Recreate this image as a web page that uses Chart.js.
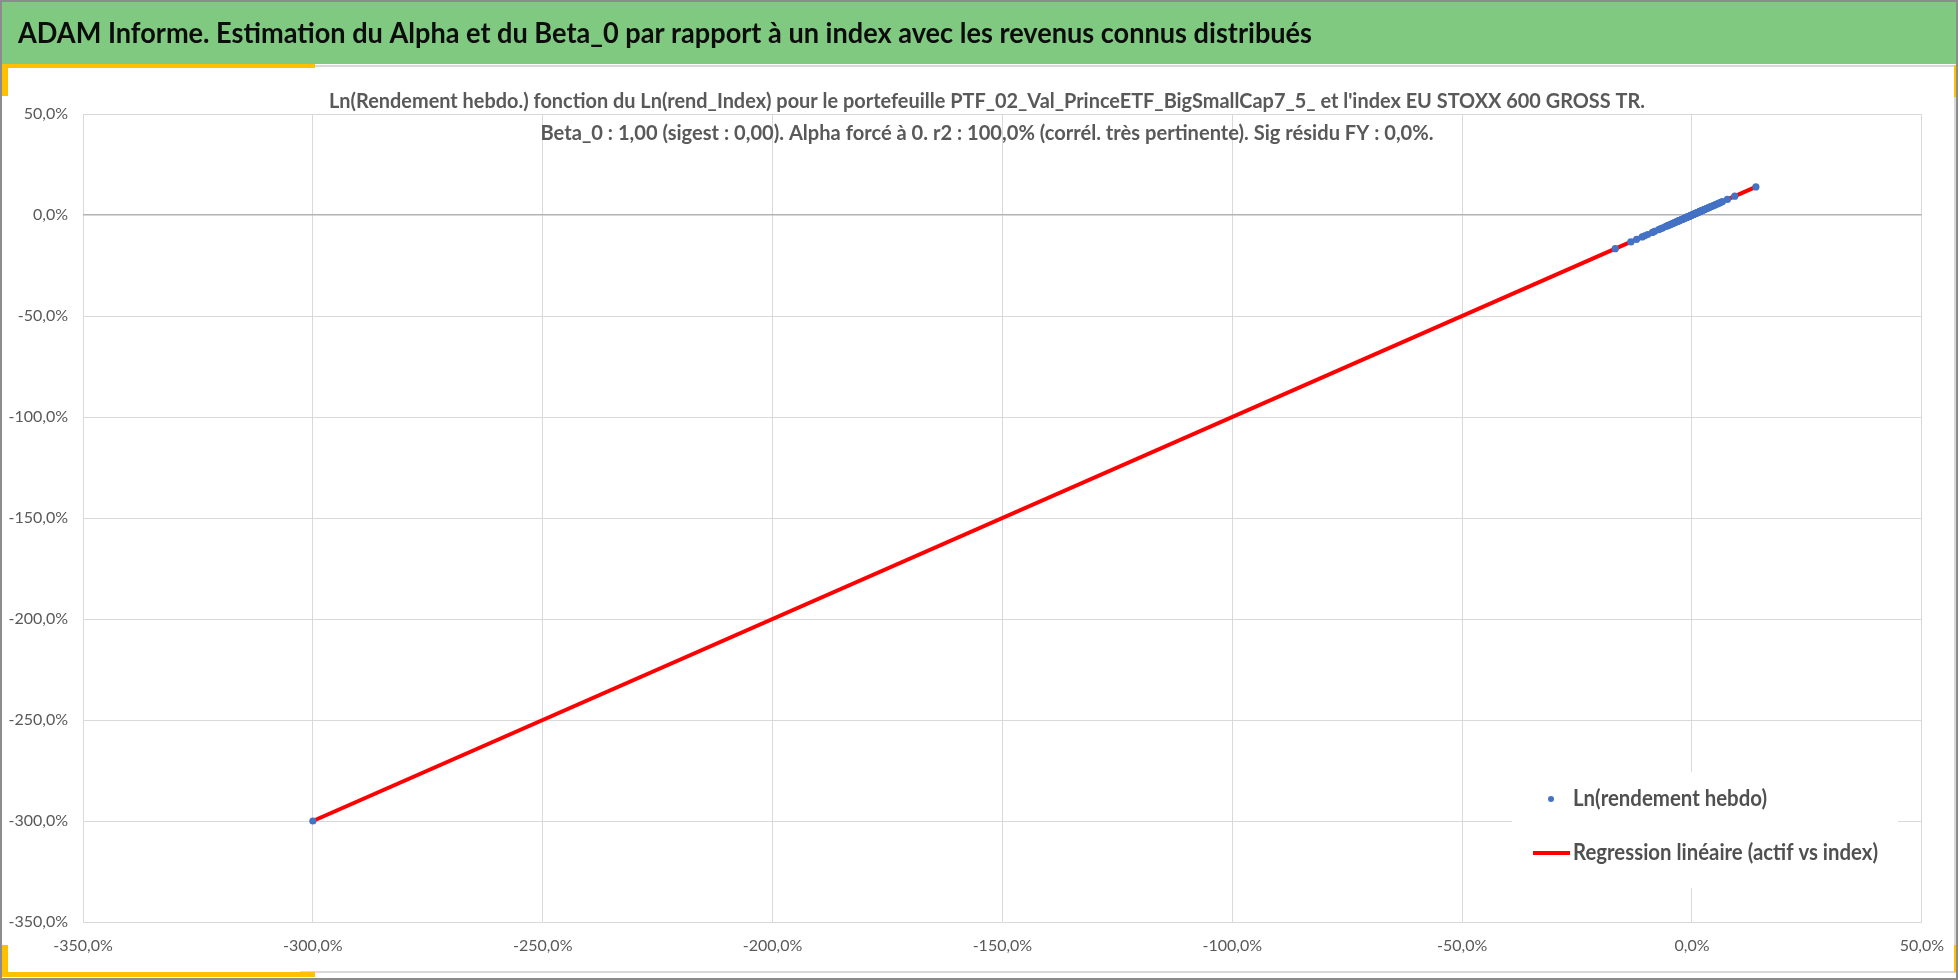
<!DOCTYPE html>
<html><head><meta charset="utf-8">
<script src="https://cdn.jsdelivr.net/npm/chart.js@4.4.1/dist/chart.umd.min.js"></script>
<style>html,body{margin:0;padding:0;background:#fff;overflow:hidden}canvas{display:block}</style>
</head><body>
<canvas id="c" width="1958" height="980" style="width:1958px;height:980px"></canvas>
<script>
// ---------- texts ----------
const pageTitle = "ADAM Informe. Estimation du Alpha et du Beta_0 par rapport à un index avec les revenus connus distribués";
const chartTitle = [
  "Ln(Rendement hebdo.) fonction du Ln(rend_Index) pour le portefeuille PTF_02_Val_PrinceETF_BigSmallCap7_5_ et l'index EU STOXX 600 GROSS TR.",
  "Beta_0 : 1,00 (sigest : 0,00). Alpha forcé à 0. r2 : 100,0% (corrél. très pertinente). Sig résidu FY : 0,0%."
];
const seriesNames = ["Ln(rendement hebdo)", "Regression linéaire (actif vs index)"];

// ---------- data (in %) ----------
const indexLnRet = [
  -300.00, -16.70, -13.30, -12.05, -10.85, -10.30, -9.65, -8.60, -8.15, -7.25, -6.80, -6.35,
  -5.75, -5.42, -5.18, -4.93, -4.71, -4.47, -4.26, -4.02, -3.88, -3.71, -3.52, -3.36, -3.21,
  -3.04, -2.93, -2.77, -2.64, -2.51, -2.38, -2.22, -2.13, -1.97, -1.86, -1.74, -1.61, -1.52,
  -1.43, -1.31, -1.19, -1.08, -0.97, -0.89, -0.78, -0.66, -0.57, -0.49, -0.38, -0.27, -0.16,
  -0.08, 0.04, 0.12, 0.23, 0.31, 0.42, 0.53, 0.61, 0.72, 0.84, 0.93, 1.02, 1.14, 1.23, 1.35,
  1.44, 1.56, 1.63, 1.77, 1.86, 1.95, 2.07, 2.18, 2.29, 2.41, 2.56, 2.68, 2.79, 2.94, 3.08,
  3.22, 3.41, 3.57, 3.73, 3.92, 4.12, 4.33, 4.56, 4.81, 5.04, 5.31, 5.62, 5.93, 6.22, 6.61,
  7.70, 9.30, 13.90
];
const ptfLnRet = [
  -300.00, -16.68, -13.32, -12.03, -10.86, -10.28, -9.66, -8.61, -8.13, -7.26, -6.79, -6.36,
  -5.74, -5.43, -5.17, -4.94, -4.70, -4.48, -4.25, -4.03, -3.87, -3.72, -3.51, -3.37, -3.20,
  -3.05, -2.92, -2.78, -2.63, -2.52, -2.37, -2.23, -2.12, -1.98, -1.85, -1.75, -1.60, -1.53,
  -1.42, -1.32, -1.18, -1.09, -0.96, -0.90, -0.77, -0.67, -0.56, -0.50, -0.37, -0.28, -0.15,
  -0.09, 0.05, 0.11, 0.24, 0.30, 0.43, 0.52, 0.62, 0.71, 0.85, 0.92, 1.03, 1.13, 1.24, 1.34,
  1.45, 1.55, 1.64, 1.76, 1.87, 1.94, 2.08, 2.17, 2.30, 2.40, 2.57, 2.67, 2.80, 2.93, 3.09,
  3.21, 3.42, 3.56, 3.74, 3.91, 4.13, 4.32, 4.57, 4.80, 5.05, 5.30, 5.63, 5.92, 6.23, 6.60,
  7.71, 9.31, 13.92
];
const regX = [-300.0, 13.9];
const regY = [-300.0, 13.9];
const xTicks = [-350, -300, -250, -200, -150, -100, -50, 0, 50];
const yTicks = [-350, -300, -250, -200, -150, -100, -50, 0, 50];

// ---------- font detection ----------
function hasFont(name) {
  const c = document.createElement('canvas').getContext('2d');
  const s = '-350,0% Regression linéaire';
  c.font = '40px monospace'; const a = c.measureText(s).width;
  c.font = '40px "' + name + '", monospace'; const b = c.measureText(s).width;
  return Math.abs(a - b) > 0.5;
}
const NARROW = hasFont('Liberation Sans Narrow');
const TXT = NARROW ? '"Liberation Sans Narrow", Lato, sans-serif' : 'Lato, "Open Sans", sans-serif';
const tickFont = NARROW ? { family: TXT, size: 18 } : { family: TXT, size: 16 };

function fmtPct(v) { return v.toFixed(1).replace('.', ',') + '%'; }

function fitText(ctx, text, x, y, w, align) {
  ctx.save();
  ctx.textAlign = 'left';
  const m = ctx.measureText(text).width;
  const s = w / m;
  ctx.translate(x, y);
  ctx.scale(s, 1);
  let x0 = 0;
  if (align === 'center') x0 = -m / 2;
  ctx.fillText(text, x0, 0);
  ctx.restore();
}

// ---------- frame / decorations ----------
const framePlugin = {
  id: 'frame',
  beforeDraw(chart) {
    const ctx = chart.ctx;
    ctx.save();
    ctx.fillStyle = '#ffffff';
    ctx.fillRect(0, 0, 1958, 980);
    // green header
    ctx.fillStyle = 'rgb(128,201,128)';
    ctx.fillRect(2, 2, 1956, 62);
    // inner light frame
    ctx.strokeStyle = '#d9d9d9';
    ctx.lineWidth = 2;
    ctx.beginPath();
    ctx.moveTo(300, 66); ctx.lineTo(1955, 66); ctx.lineTo(1955, 972); ctx.lineTo(300, 972);
    ctx.stroke();
    // yellow accents
    ctx.fillStyle = '#ffc000';
    ctx.fillRect(2, 64, 313, 4);
    ctx.fillRect(2, 64, 6, 32);
    ctx.fillRect(2, 972, 313, 5);
    ctx.fillRect(2, 945, 6, 32);
    ctx.fillRect(1954, 65, 3, 32);
    ctx.fillRect(1954, 945, 3, 27);
    // outer grey border
    ctx.strokeStyle = '#8c8c8c';
    ctx.lineWidth = 2;
    ctx.strokeRect(1, 1, 1956, 978);
    // header text
    ctx.fillStyle = '#0d0d0d';
    ctx.textBaseline = 'alphabetic';
    ctx.font = 'bold ' + (NARROW ? 28 : 29) + 'px ' + TXT;
    fitText(ctx, pageTitle, 18, 43, 1294, 'left');
    ctx.restore();
  },
  afterDraw(chart) {
    const ctx = chart.ctx;
    ctx.save();
    // chart title
    ctx.fillStyle = '#595959';
    ctx.textBaseline = 'alphabetic';
    ctx.font = 'bold ' + (NARROW ? 20 : 20) + 'px ' + TXT;
    fitText(ctx, chartTitle[0], 987, 108, 1316, 'center');
    fitText(ctx, chartTitle[1], 987, 140, 893, 'center');
    // legend
    ctx.fillStyle = '#ffffff';
    ctx.fillRect(1512, 772, 386, 116);
    const ds = chart.data.datasets;
    ctx.fillStyle = ds[0].backgroundColor;
    ctx.beginPath(); ctx.arc(1551, 799, 3, 0, Math.PI * 2); ctx.fill();
    ctx.strokeStyle = ds[1].borderColor;
    ctx.lineWidth = 4;
    ctx.beginPath(); ctx.moveTo(1533, 853); ctx.lineTo(1570, 853); ctx.stroke();
    ctx.fillStyle = '#505050';
    ctx.textBaseline = 'middle';
    ctx.font = 'bold 22px ' + TXT;
    fitText(ctx, ds[0].label, 1573, 799, 194, 'left');
    fitText(ctx, ds[1].label, 1573, 853, 305, 'left');
    ctx.restore();
  }
};

const scatterPts = indexLnRet.map((x, i) => ({ x: x, y: ptfLnRet[i] }));
const regPts = regX.map((x, i) => ({ x: x, y: regY[i] }));

new Chart(document.getElementById('c'), {
  type: 'scatter',
  data: {
    datasets: [
      {
        label: seriesNames[0],
        data: scatterPts,
        backgroundColor: '#4472c4',
        borderColor: '#4472c4',
        borderWidth: 0,
        pointRadius: 3.6,
        pointHoverRadius: 3.6,
        order: 0
      },
      {
        type: 'line',
        label: seriesNames[1],
        data: regPts,
        borderColor: '#ff0000',
        backgroundColor: '#ff0000',
        borderWidth: 4,
        pointRadius: 0,
        fill: false,
        tension: 0,
        order: 1
      }
    ]
  },
  options: {
    responsive: false,
    animation: false,
    devicePixelRatio: 1,
    layout: { padding: { top: 114, right: 35, left: 0, bottom: 0 } },
    plugins: { legend: { display: false }, title: { display: false }, tooltip: { enabled: false } },
    scales: {
      x: {
        type: 'linear',
        min: -350, max: 50,
        afterBuildTicks: s => { s.ticks = xTicks.map(v => ({ value: v })); },
        afterFit: s => { s.height = 58; },
        grid: { color: '#d9d9d9', lineWidth: 1, drawTicks: false },
        border: { display: false },
        ticks: { padding: 14, color: '#595959', font: tickFont, maxRotation: 0, autoSkip: false, callback: v => fmtPct(v) }
      },
      y: {
        type: 'linear',
        min: -350, max: 50,
        afterBuildTicks: s => { s.ticks = yTicks.map(v => ({ value: v })); },
        afterFit: s => { s.width = 83; },
        grid: {
          color: c => (c.tick && c.tick.value === 0) ? '#b3b3b3' : '#d9d9d9',
          lineWidth: c => (c.tick && c.tick.value === 0) ? 1.5 : 1,
          drawTicks: false
        },
        border: { display: false },
        ticks: { padding: 15, color: '#595959', font: tickFont, autoSkip: false, callback: v => fmtPct(v) }
      }
    }
  },
  plugins: [framePlugin]
});
</script>
</body></html>
